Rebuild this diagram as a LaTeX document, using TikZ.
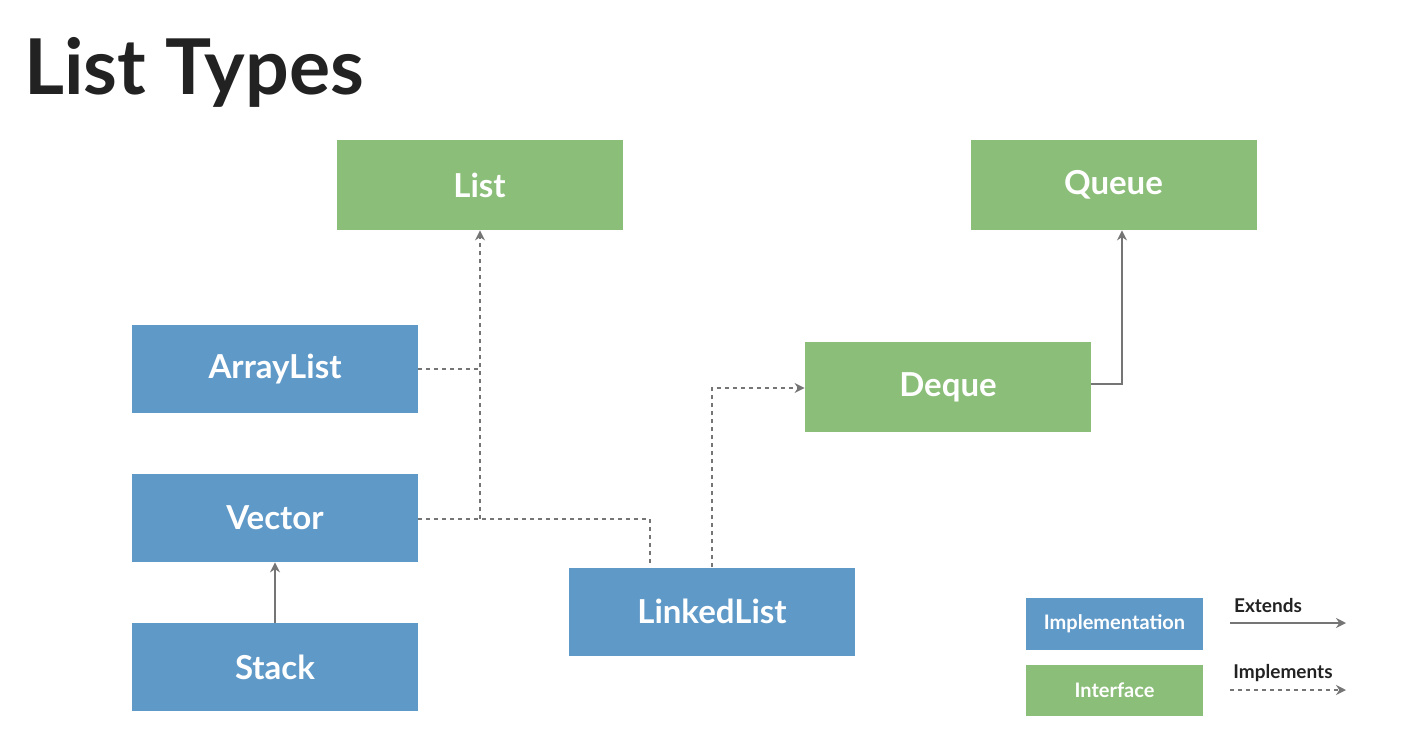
\documentclass[tikz,border=0pt]{standalone}
\usepackage{fontspec}
\setmainfont{Lato}
\usetikzlibrary{arrows.meta}
\definecolor{implblue}{HTML}{5F99C8}
\definecolor{intgreen}{HTML}{8BBE78}
\definecolor{linegray}{HTML}{757575}
\definecolor{titlegray}{HTML}{222222}
\tikzset{
  impl/.style={fill=implblue, draw=none, text=white, font=\bfseries\fontsize{16.5}{19}\selectfont, minimum width=143pt, minimum height=44pt, inner sep=0pt},
  intf/.style={fill=intgreen, draw=none, text=white, font=\bfseries\fontsize{16.5}{19}\selectfont, minimum width=143pt, minimum height=45pt, inner sep=0pt},
  legimpl/.style={fill=implblue, text=white, font=\bfseries\fontsize{10}{12}\selectfont, minimum width=88.5pt, minimum height=26pt, inner sep=0pt},
  legintf/.style={fill=intgreen, text=white, font=\bfseries\fontsize{10}{12}\selectfont, minimum width=88.5pt, minimum height=25.5pt, inner sep=0pt},
  extends/.style={draw=linegray, line width=1.1pt, -{Stealth[length=5pt,width=5pt]}},
  implements/.style={draw=linegray, line width=1.1pt, dash pattern=on 2pt off 2pt, -{Stealth[length=5pt,width=5pt]}},
  legtext/.style={font=\bfseries\fontsize{9.5}{11}\selectfont, text=titlegray, inner sep=0pt}
}
\begin{document}
\begin{tikzpicture}[x=0.5pt,y=-0.5pt]
\useasboundingbox[fill=white] (0,0) rectangle (1410,740);
\node[anchor=west, font=\bfseries\fontsize{38.5}{42}\selectfont, text=titlegray, inner sep=0pt] (title) at (24,72) {List Types};

\node[intf] (list) at (479.5,185) {List};
\node[intf] (queue) at (1113.5,185) {Queue};
\node[impl] (arraylist) at (275,369) {ArrayList};
\node[impl] (vector) at (275,518) {Vector};
\node[impl] (stack) at (275,667) {Stack};
\node[intf] (deque) at (948,387) {Deque};
\node[impl] (linkedlist) at (712,611.5) {LinkedList};

\coordinate (j1) at (480,369);
\coordinate (j2) at (480,519);
\coordinate (j3) at (650,519);
\coordinate (j4) at (712,388);
\coordinate (j5) at (1122,384);

\draw[implements, -] (arraylist.east |- j1) -- (j1);
\draw[implements, -] (vector.east |- j2) -- (j3) -- (j3 |- linkedlist.north);
\draw[implements] (j2) -- (j2 |- list.south);
\draw[implements] (j4 |- linkedlist.north) -- (j4) -- (deque.west |- j4);
\draw[extends] (deque.east |- j5) -- (j5) -- (j5 |- queue.south);
\draw[extends] (stack.north) -- (vector.south);

\node[legimpl] (legi) at (1114.5,624) {Implementation};
\node[legintf] (legf) at (1114.5,690.5) {Interface};
\node[legtext] (ext) at (1268,606) {Extends};
\node[legtext] (imp) at (1283,673) {Implements};
\coordinate (e1) at (1230,623);
\coordinate (e2) at (1346,623);
\coordinate (m1) at (1230,690);
\coordinate (m2) at (1346,690);
\draw[extends] (e1) -- (e2);
\draw[implements] (m1) -- (m2);
\end{tikzpicture}
\end{document}
